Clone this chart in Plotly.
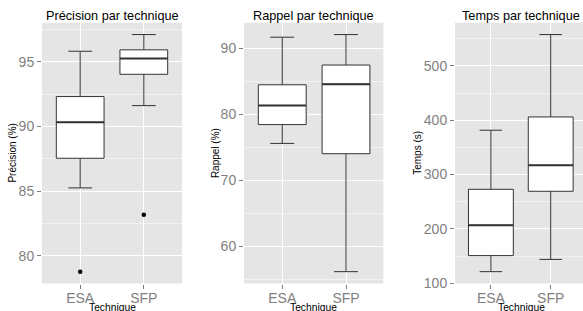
import plotly.graph_objects as go

categories = ["ESA", "SFP"]

# Précision (%)
prec_q1 = [87.55, 94.04]
prec_med = [90.33, 95.26]
prec_q3 = [92.32, 95.93]
prec_low = [85.26, 91.62]
prec_high = [95.82, 97.11]
prec_out_cat = ["ESA", "SFP"]
prec_out_val = [78.79, 83.19]

# Rappel (%)
rap_q1 = [78.45, 74.04]
rap_med = [81.34, 84.57]
rap_q3 = [84.47, 87.46]
rap_low = [75.6, 56.2]
rap_high = [91.67, 92.07]

# Temps (s)
tps_q1 = [151.0, 269.3]
tps_med = [206.8, 317.0]
tps_q3 = [272.9, 406.0]
tps_low = [121.5, 144.0]
tps_high = [381.6, 557.5]

W, H = 583, 311
def X(px): return px / W
def Y(px): return 1 - px / H

PANEL_TOP, PANEL_BOT = 22.7, 283.5
panels = [
    dict(title="Précision par technique", ytitle="Précision (%)", q1=prec_q1, med=prec_med, q3=prec_q3,
         low=prec_low, high=prec_high, out_c=prec_out_cat, out_v=prec_out_val,
         x0=42, x1=182, xr=[-0.6, 1.6], dtick=5, ytx=12.5, tcx=112),
    dict(title="Rappel par technique", ytitle="Rappel (%)", q1=rap_q1, med=rap_med, q3=rap_q3,
         low=rap_low, high=rap_high, out_c=[], out_v=[],
         x0=244, x1=383.3, xr=[-0.6, 1.585], dtick=10, ytx=215, tcx=313.5),
    dict(title="Temps par technique", ytitle="Temps (s)", q1=tps_q1, med=tps_med, q3=tps_q3,
         low=tps_low, high=tps_high, out_c=[], out_v=[],
         x0=455, x1=583, xr=[-0.6, 1.54], dtick=100, ytx=416.7, tcx=521),
]

FONT = "Liberation Sans, Arial, sans-serif"
LINE = "#333333"
fig = go.Figure()
shapes = []
annotations = []
layout = {}
for i, p in enumerate(panels):
    n = "" if i == 0 else str(i + 1)
    xa, ya = "x" + n, "y" + n
    fig.add_trace(go.Box(
        x=categories, q1=p["q1"], median=p["med"], q3=p["q3"],
        lowerfence=p["low"], upperfence=p["high"], width=0.75,
        fillcolor="white", line=dict(color=LINE, width=1), boxpoints=False,
        hoverinfo="skip", showlegend=False, xaxis=xa, yaxis=ya))
    if p["out_v"]:
        fig.add_trace(go.Scatter(x=p["out_c"], y=p["out_v"], mode="markers",
                                 marker=dict(color="black", size=4.5), showlegend=False,
                                 hoverinfo="skip", xaxis=xa, yaxis=ya))
    for k, m in enumerate(p["med"]):
        shapes.append(dict(type="line", xref=xa, yref=ya, x0=k - 0.375, x1=k + 0.375,
                           y0=m, y1=m, line=dict(color=LINE, width=2)))
    lo = min(p["low"] + p["out_v"]); hi = max(p["high"] + p["out_v"])
    span = hi - lo
    yr = [lo - 0.05 * span, hi + 0.05 * span]
    layout["xaxis" + n] = dict(domain=[X(p["x0"]), X(p["x1"])], anchor=ya, type="category",
                               range=p["xr"], showgrid=True, gridcolor="white", gridwidth=1.2,
                               ticks="outside", ticklen=4, tickcolor="#7F7F7F",
                               ticklabelstandoff=-2, automargin=False,
                               tickfont=dict(size=14, color="#7F7F7F", family=FONT),
                               zeroline=False, showline=False, fixedrange=True)
    layout["yaxis" + n] = dict(domain=[Y(PANEL_BOT), Y(PANEL_TOP)], anchor=xa, range=yr,
                               dtick=p["dtick"], showgrid=True, gridcolor="white", gridwidth=1.2,
                               minor=dict(dtick=p["dtick"] / 2, showgrid=True, gridcolor="#F2F2F2",
                                          gridwidth=0.6),
                               ticks="outside", ticklen=4, tickcolor="#7F7F7F", automargin=False,
                               tickfont=dict(size=14, color="#7F7F7F", family=FONT),
                               zeroline=False, showline=False, fixedrange=True)
    shapes.insert(0, dict(type="rect", xref="paper", yref="paper", x0=X(p["x0"]), x1=X(p["x1"]),
                          y0=Y(PANEL_BOT), y1=Y(PANEL_TOP), fillcolor="#E5E5E5",
                          line=dict(width=0), layer="below"))
    annotations.append(dict(text=p["title"], x=X(p["tcx"]), y=Y(15.5), xref="paper", yref="paper",
                            showarrow=False, xanchor="center", yanchor="middle",
                            font=dict(size=12.7, color="black", family=FONT)))
    annotations.append(dict(text="Technique", x=X(p["tcx"]), y=Y(307.5), xref="paper", yref="paper",
                            showarrow=False, xanchor="center", yanchor="middle",
                            font=dict(size=10.3, color="black", family=FONT)))
    annotations.append(dict(text=p["ytitle"], x=X(p["ytx"]), y=Y((PANEL_TOP + PANEL_BOT) / 2),
                            xref="paper", yref="paper", textangle=-90,
                            showarrow=False, xanchor="center", yanchor="middle",
                            font=dict(size=10, color="black", family=FONT)))

fig.update_layout(width=W, height=H, margin=dict(l=0, r=0, t=0, b=0, autoexpand=False),
                  paper_bgcolor="white", plot_bgcolor="rgba(0,0,0,0)",
                  shapes=shapes, annotations=annotations, showlegend=False,
                  font=dict(family=FONT), **layout)
fig.write_html("out.html", config={"displayModeBar": False},
               post_script="document.body.style.margin='0px';document.body.style.padding='0px';")
